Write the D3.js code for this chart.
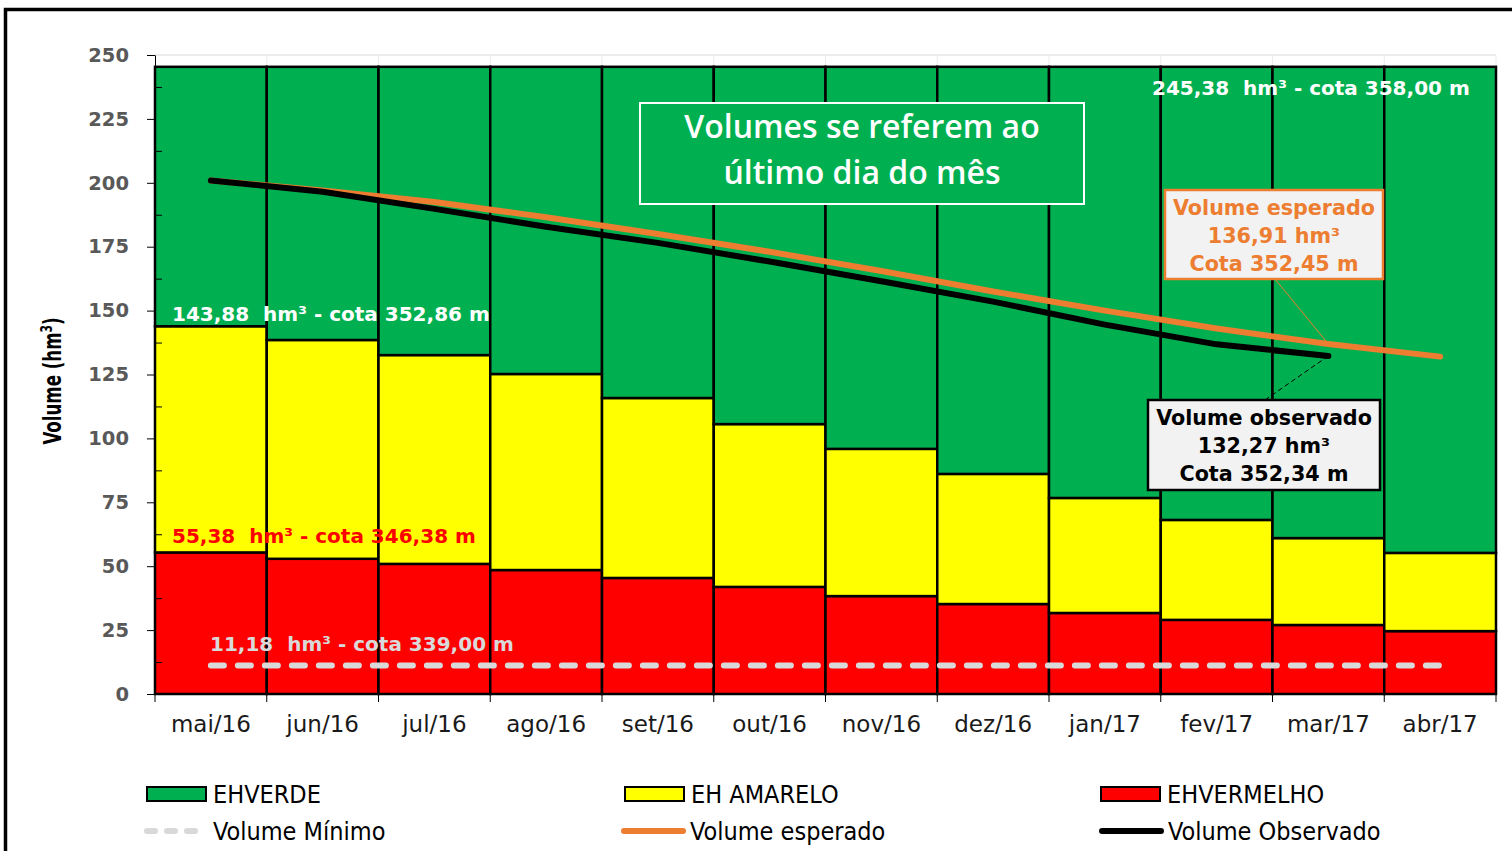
<!DOCTYPE html>
<html>
<head>
<meta charset="utf-8">
<script src="https://cdn.jsdelivr.net/npm/d3@7"></script>
<style>
  html, body { margin: 0; padding: 0; background: #fff; }
  svg { display: block; }
  text { white-space: pre; }
</style>
</head>
<body>
<svg id="chart" width="1512" height="851"></svg>
<script>
// ---------------- DATA ----------------
const months = ["mai/16","jun/16","jul/16","ago/16","set/16","out/16","nov/16","dez/16","jan/17","fev/17","mar/17","abr/17"];
const ehVermelho = [55.38, 52.9, 50.9, 48.5, 45.4, 41.9, 38.3, 35.2, 31.7, 29.0, 27.0, 24.6];
const ehAmarelo  = [88.50, 85.6, 81.7, 76.7, 70.4, 63.7, 57.6, 50.9, 45.0, 39.1, 34.0, 30.6];
const ehVerde    = [101.50, 106.88, 112.78, 120.18, 129.58, 139.78, 149.48, 159.28, 168.68, 177.28, 184.38, 190.18];
const volumeEsperado  = [200.9, 197.0, 192.5, 186.5, 180.0, 173.0, 165.5, 157.5, 150.0, 143.0, 136.91, 132.0];
const volumeObservado = [200.9, 196.5, 189.8, 182.8, 176.5, 169.2, 161.5, 153.5, 144.5, 136.8, 132.27, null];
const volumeMinimo = 11.18;
const yTicks = [0, 25, 50, 75, 100, 125, 150, 175, 200, 225, 250];
const yMinorTicks = [12.5, 37.5, 62.5, 87.5, 112.5, 137.5, 162.5, 187.5, 212.5, 237.5];

const seriesKeys = ["vermelho", "amarelo", "verde"];
const seriesColors = { vermelho: "#ff0000", amarelo: "#ffff00", verde: "#00b050" };
const rows = months.map((m, i) => ({ month: m, vermelho: ehVermelho[i], amarelo: ehAmarelo[i], verde: ehVerde[i] }));

// ---------------- LAYOUT ----------------
const svg = d3.select("#chart");
const W = 1512, H = 851;
const plot = { left: 155, right: 1496, top: 55, bottom: 694 };

const x = d3.scaleBand().domain(months).range([plot.left, plot.right]).padding(0);
const y = d3.scaleLinear().domain([0, 250]).range([plot.bottom, plot.top]);
const cx = m => x(m) + x.bandwidth() / 2;

svg.append("rect").attr("width", W).attr("height", H).attr("fill", "#fff");

// outer frame
svg.append("path").attr("d", `M5.5,851 L5.5,9.5 L1512,9.5`).attr("fill", "none")
  .attr("stroke", "#000").attr("stroke-width", 3.5);

// gridlines (only visible above bars)
svg.append("line").attr("x1", plot.left).attr("x2", plot.right)
  .attr("y1", y(250)).attr("y2", y(250)).attr("stroke", "#d9d9d9").attr("stroke-width", 1);
svg.append("g").selectAll("line").data(months.slice(1).concat(["__end"])).join("line")
  .attr("x1", d => d === "__end" ? plot.right : x(d))
  .attr("x2", d => d === "__end" ? plot.right : x(d))
  .attr("y1", y(250)).attr("y2", y(0)).attr("stroke", "#ececec").attr("stroke-width", 1);

// stacked bars
const stacked = d3.stack().keys(seriesKeys)(rows);
svg.append("g").selectAll("g").data(stacked).join("g")
  .attr("fill", d => seriesColors[d.key])
  .selectAll("rect").data(d => d).join("rect")
  .attr("x", d => x(d.data.month))
  .attr("width", x.bandwidth())
  .attr("y", d => y(d[1]))
  .attr("height", d => y(d[0]) - y(d[1]))
  .attr("stroke", "#000").attr("stroke-width", 2.5);

// axes
const fontV = "'DejaVu Sans', Verdana, sans-serif";
const yAxis = svg.append("g").attr("transform", `translate(${plot.left},0)`)
  .call(d3.axisLeft(y).tickValues(yTicks).tickSize(8).tickPadding(18).tickSizeOuter(0));
yAxis.select(".domain").attr("stroke", "#000");
yAxis.selectAll(".tick line").attr("stroke", "#000");
yAxis.selectAll("text").attr("font-family", fontV).attr("font-weight", "bold")
  .attr("font-size", 19.5).attr("fill", "#595959");

const yMinor = svg.append("g").attr("transform", `translate(${plot.left},0)`)
  .call(d3.axisRight(y).tickValues(yMinorTicks).tickSize(7).tickFormat(""));
yMinor.select(".domain").remove();
yMinor.selectAll(".tick line").attr("stroke", "#000");

const xAxis = svg.append("g").attr("transform", `translate(0,${plot.bottom})`)
  .call(d3.axisBottom(x).tickSize(0).tickPadding(22).tickSizeOuter(0));
xAxis.select(".domain").attr("stroke", "#000");
xAxis.selectAll("text").attr("font-family", fontV).attr("font-size", 23).attr("fill", "#1a1a1a")
  .attr("dy", "0.71em");
// boundary ticks
svg.append("g").selectAll("line").data(months.concat(["__end"])).join("line")
  .attr("x1", d => d === "__end" ? plot.right : x(d))
  .attr("x2", d => d === "__end" ? plot.right : x(d))
  .attr("y1", plot.bottom).attr("y2", plot.bottom + 8)
  .attr("stroke", "#000").attr("stroke-width", 1);

// y-axis title
const yt = svg.append("text").attr("transform", "translate(61,381) rotate(-90)")
  .attr("text-anchor", "middle")
  .attr("font-family", "'DejaVu Sans Condensed', 'Liberation Sans Narrow', sans-serif")
  .attr("font-weight", "bold").attr("font-size", 25).attr("fill", "#000")
  .attr("textLength", 127).attr("lengthAdjust", "spacingAndGlyphs");
yt.append("tspan").text("Volume (hm");
yt.append("tspan").text("3").attr("dy", -9).attr("font-size", 16);
yt.append("tspan").text(")").attr("dy", 9);

// volume minimo dashed line
svg.append("line")
  .attr("x1", cx(months[0])).attr("x2", cx(months[months.length - 1]))
  .attr("y1", y(volumeMinimo)).attr("y2", y(volumeMinimo))
  .attr("stroke", "#d9d9d9").attr("stroke-width", 6)
  .attr("stroke-dasharray", "13 14").attr("stroke-linecap", "round");

// lines
const line = d3.line().defined(d => d.v != null).x(d => cx(d.m)).y(d => y(d.v));
svg.append("path")
  .datum(months.map((m, i) => ({ m, v: volumeEsperado[i] })))
  .attr("d", line).attr("fill", "none").attr("stroke", "#ed7d31")
  .attr("stroke-width", 6).attr("stroke-linecap", "round").attr("stroke-linejoin", "round");
svg.append("path")
  .datum(months.map((m, i) => ({ m, v: volumeObservado[i] })))
  .attr("d", line).attr("fill", "none").attr("stroke", "#000")
  .attr("stroke-width", 6).attr("stroke-linecap", "round").attr("stroke-linejoin", "round");

// reference annotations
function note(xp, yp, txt, color) {
  return svg.append("text").attr("x", xp).attr("y", yp)
    .attr("font-family", fontV).attr("font-weight", "bold").attr("font-size", 20)
    .attr("fill", color).text(txt);
}
note(172, 321, "143,88  hm³ - cota 352,86 m", "#ffffff");
note(172, 543, "55,38  hm³ - cota 346,38 m", "#ff0000");
note(210, 651, "11,18  hm³ - cota 339,00 m", "#d9d9d9");
note(1152, 95, "245,38  hm³ - cota 358,00 m", "#ffffff");

// title box
svg.append("rect").attr("x", 640).attr("y", 103).attr("width", 444).attr("height", 101)
  .attr("fill", "#00b050").attr("stroke", "#fff").attr("stroke-width", 2);
[["Volumes se referem ao", 138], ["último dia do mês", 184]].forEach(([t, yy]) => {
  svg.append("text").attr("x", 862).attr("y", yy).attr("text-anchor", "middle")
    .attr("font-family", "'Open Sans', sans-serif").attr("font-weight", 600)
    .attr("font-size", 32).attr("fill", "#fff").text(t);
});

// leader lines
const marX = cx("mar/17");
svg.append("line").attr("x1", 1275).attr("y1", 279).attr("x2", marX).attr("y2", y(136.91))
  .attr("stroke", "#ed7d31").attr("stroke-width", 1);
svg.append("line").attr("x1", 1265).attr("y1", 400).attr("x2", marX).attr("y2", y(132.27))
  .attr("stroke", "#000").attr("stroke-width", 1).attr("stroke-dasharray", "5 3");

// callout boxes
function callout(bx, by, bw, bh, stroke, color, lines, baselines) {
  svg.append("rect").attr("x", bx).attr("y", by).attr("width", bw).attr("height", bh)
    .attr("fill", "#f2f2f2").attr("stroke", stroke).attr("stroke-width", 2.5);
  lines.forEach((t, i) => {
    svg.append("text").attr("x", bx + bw / 2).attr("y", baselines[i]).attr("text-anchor", "middle")
      .attr("font-family", fontV).attr("font-weight", "bold").attr("font-size", 20.7)
      .attr("fill", color).text(t);
  });
}
callout(1165, 190, 218, 89, "#ed7d31", "#ed7d31",
  ["Volume esperado", "136,91 hm³", "Cota 352,45 m"], [215, 243, 271]);
callout(1148, 400, 232, 90, "#000", "#000",
  ["Volume observado", "132,27 hm³", "Cota 352,34 m"], [425, 453, 481]);

// legend
const legFont = "'DejaVu Sans Condensed', 'Liberation Sans Narrow', sans-serif";
const legendItems = [
  { type: "rect", color: "#00b050", label: "EHVERDE", x: 147, y: 794 },
  { type: "rect", color: "#ffff00", label: "EH AMARELO", x: 625, y: 794 },
  { type: "rect", color: "#ff0000", label: "EHVERMELHO", x: 1101, y: 794 },
  { type: "dash", color: "#d9d9d9", label: "Volume Mínimo", x: 147, y: 831 },
  { type: "line", color: "#ed7d31", label: "Volume esperado", x: 624, y: 831 },
  { type: "line", color: "#000000", label: "Volume Observado", x: 1102, y: 831 }
];
const lg = svg.append("g");
legendItems.forEach(it => {
  if (it.type === "rect") {
    lg.append("rect").attr("x", it.x).attr("y", it.y - 7).attr("width", 59).attr("height", 14)
      .attr("fill", it.color).attr("stroke", "#000").attr("stroke-width", 2);
  } else {
    lg.append("line").attr("x1", it.x).attr("x2", it.x + 59).attr("y1", it.y).attr("y2", it.y)
      .attr("stroke", it.color).attr("stroke-width", 6).attr("stroke-linecap", "round")
      .attr("stroke-dasharray", it.type === "dash" ? "8 12" : null);
  }
  lg.append("text").attr("x", it.x + 66).attr("y", it.y + 9)
    .attr("font-family", legFont).attr("font-size", 25).attr("fill", "#000").text(it.label);
});
</script>
</body>
</html>
